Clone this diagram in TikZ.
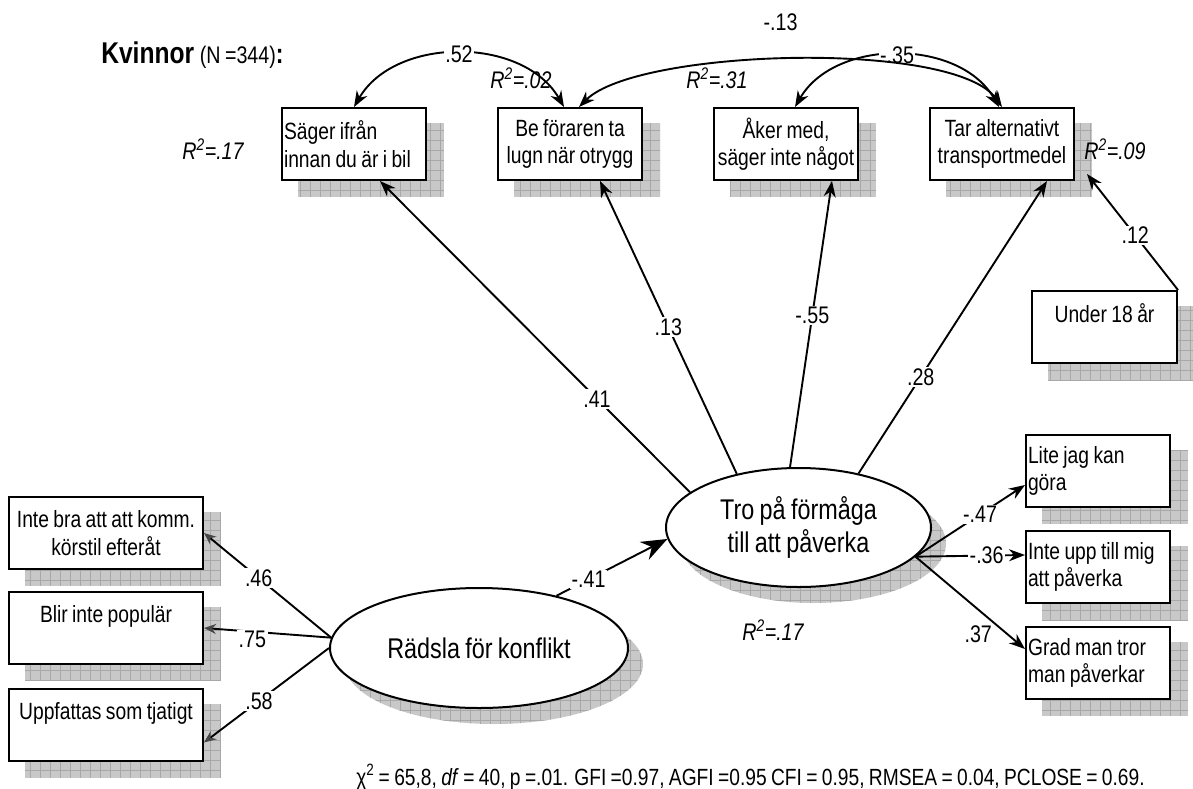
\documentclass[tikz,border=0pt]{standalone}
\usepackage{fontspec}
\setmainfont{Liberation Sans}[FakeStretch=0.82,WordSpace=0.82]
\usetikzlibrary{arrows,arrows.meta,shapes.geometric,backgrounds}

\begin{document}
\begin{tikzpicture}[x=1pt,y=-1pt,>={Stealth[length=16pt,width=12pt]},
		line width=1.9pt,node distance=216pt]
		\tikzstyle{box}=[draw,fill=white,line width=2pt,minimum width=144pt,minimum height=72pt,
			text width=140pt,inner xsep=2pt,align=flush center,font=\fontsize{23.5}{27.5}\selectfont]
		\tikzstyle{lbox}=[box,align=flush left]
		\tikzstyle{wbox}=[box,minimum width=194pt,text width=190pt]
		\tikzstyle{latent}=[draw,ellipse,fill=white,line width=2pt,inner sep=0pt,align=center,
			font=\fontsize{28.5}{33}\selectfont]
		\tikzstyle{coef}=[fill=white,inner sep=1.5pt,font=\fontsize{24}{28}\selectfont]
		\tikzstyle{rsq}=[font=\fontsize{24}{28}\selectfont\itshape]
		\tikzstyle{grayshadow}=[fill=gray!43,path picture={\draw[gray!68,line width=0.7pt,step=10pt]
			(path picture bounding box.south west) grid (path picture bounding box.north east);}]
		
		\useasboundingbox (0,0) rectangle (1193,789);
		
		% svar
		\node[lbox] (b1) at (354,144) {Säger ifrån\\innan du är i bil};
		\node[box]  (b2) [right of=b1] {Be föraren ta\\lugn när otrygg};
		\node[box]  (b3) [right of=b2] {Åker med,\\säger inte något};
		\node[box]  (b4) [right of=b3] {Tar alternativt\\transportmedel};
		\node[box,minimum width=145pt] (u18) at (1104.5,327) {Under 18 år\\\mbox{}};
		
		% latenta
		\node[latent,minimum width=265pt,minimum height=119pt] (tro) at (798.5,527.5) {Tro på förmåga\\till att påverka};
		\node[latent,minimum width=298pt,minimum height=120pt] (rad) at (479,648) {Rädsla för konflikt};
		
		\node[wbox] (l1) at (106,533) {Inte bra att att komm.\\körstil efteråt};
		\node[wbox] (l2) at (106,628) {Blir inte populär\\\mbox{}};
		\node[wbox] (l3) at (106,724.5) {Uppfattas som tjatigt\\\mbox{}};
		
		\node[lbox] (r1) at (1098,471) {Lite jag kan\\göra};
		\node[lbox] (r2) [below of=r1,node distance=96pt] {Inte upp till mig\\att påverka};
		\node[lbox] (r3) [below of=r2,node distance=96pt] {Grad man tror\\man påverkar};
		
		\begin{scope}[on background layer]
			\foreach \n in {b1,b2,b3,b4,u18,l1,l2,l3,r1,r2,r3}
				\fill[grayshadow] ([shift={(17,16)}]\n.north west) rectangle ([shift={(17,16)}]\n.south east);
			\fill[grayshadow] ([shift={(15,16)}]tro.center) ellipse [x radius=132.5pt,y radius=59.5pt];
			\fill[grayshadow] ([shift={(15,16)}]rad.center) ellipse [x radius=149pt,y radius=60pt];
		\end{scope}
		
		\path[->]
		(tro.162) edge node[coef,pos=.3] {.41} ([xshift=26pt]b1.south)
		(tro.139) edge node[coef,pos=.5] {.13} ([xshift=30pt]b2.south)
		(tro.98) edge node[coef,pos=.53] {-.55} ([xshift=46pt]b3.south)
		(tro.42) edge node[coef,pos=.33] {.28} ([xshift=45pt]b4.south)
		(u18.north east) edge node[coef,pos=.47] {.12} ([shift={(12pt,7pt)}]b4.south east)
		
		(tro.-14) edge node[coef,pos=.59] {-.47} ([yshift=-14pt]r1.west)
		edge node[coef,pos=.65] {-.36} ([yshift=12pt]r2.west)
		edge node[coef,fill=none,pos=.72,anchor=north east] {.37} ([yshift=14pt]r3.west);
		
		\path[->,>={Stealth[length=26pt,width=20pt]}]
		(rad.34) edge node[coef,pos=.29] {-.41} (tro.185);
		
		\path[->,>={Stealth[length=12pt,width=10pt,color=gray!55!black]}]
		(rad.176) edge node[coef,pos=.57] {.46} (l1.east)
		edge node[coef,pos=.62,yshift=-8pt] {.75} (l2.east)
		(rad.west) edge node[coef,pos=.56] {.58} ([yshift=-18pt]l3.east);
		
		% kovarianser
		\path[<->]
		(b1.north) edge[out=60,in=120] node[coef] {.52} ([xshift=-6pt]b2.north)
		([xshift=9pt]b3.north) edge[out=60,in=120] node[coef] {-.35} ([xshift=-3pt]b4.north)
		([xshift=9pt]b2.north) edge[out=45,in=125,looseness=.5] node[coef,fill=none,yshift=38pt,xshift=-14pt] {-.13} (b4.north);
		
		\node[anchor=west] (title) at (97,55) {\fontsize{30}{34}\selectfont\bfseries Kvinnor
			\fontsize{24}{28}\selectfont\mdseries(N =344)\fontsize{28}{30}\selectfont\bfseries:};
		\node[rsq] (rb1) at (213,149) {R\textsuperscript{2}=.17};
		\node[rsq] (rb2) at (521,78) {R\textsuperscript{2}=.02};
		\node[rsq] (rb3) at (717,78) {R\textsuperscript{2}=.31};
		\node[rsq] (rb4) at (1115,149) {R\textsuperscript{2}=.09};
		\node[rsq] (rtro) at (773,630) {R\textsuperscript{2}=.17};
		
		\node[anchor=base west,font=\fontsize{23.4}{28}\selectfont] (fit) at (352,785)
		{χ\textsuperscript{2} = 65,8, \textit{df} = 40, p =.01. GFI =0.97, AGFI =0.95 CFI = 0.95, RMSEA = 0.04, PCLOSE = 0.69.};
\end{tikzpicture}
\end{document}
